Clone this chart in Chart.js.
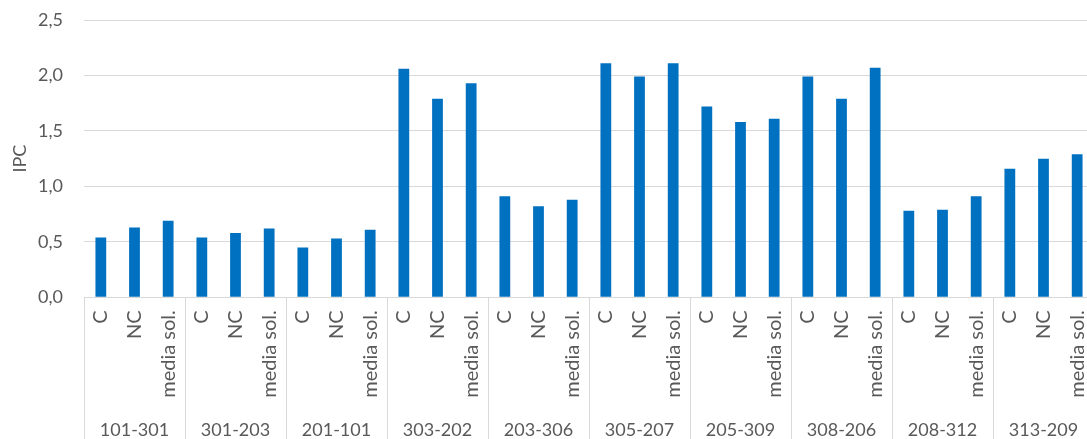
<!DOCTYPE html>
<html>
<head>
<meta charset="utf-8">
<script src="https://cdn.jsdelivr.net/npm/chart.js@4/dist/chart.umd.min.js"></script>
<style>
  html, body { margin: 0; padding: 0; background: #ffffff; overflow: hidden; }
  #wrap { width: 1096px; height: 439px; }
</style>
</head>
<body>
<div id="wrap"><canvas id="chart" width="1096" height="439"></canvas></div>
<script>
// Pairs (outer category) and the three measures per pair (inner category)
const groups = ['101-301', '301-203', '201-101', '303-202', '203-306',
                '305-207', '205-309', '308-206', '208-312', '313-209'];
const measures = ['C', 'NC', 'media sol.'];

// IPC per pair for each measure
const ipcC     = [0.54, 0.54, 0.45, 2.06, 0.91, 2.11, 1.72, 1.99, 0.78, 1.16];
const ipcNC    = [0.63, 0.58, 0.53, 1.79, 0.82, 1.99, 1.58, 1.79, 0.79, 1.25];
const ipcMedia = [0.69, 0.62, 0.61, 1.93, 0.88, 2.11, 1.61, 2.07, 0.91, 1.29];

// Y axis ticks
const yTicks = [0, 0.5, 1.0, 1.5, 2.0, 2.5];

// Flatten into one bar per (pair, measure)
const barLabels = [];
const barValues = [];
groups.forEach((g, i) => {
  const vals = [ipcC[i], ipcNC[i], ipcMedia[i]];
  measures.forEach((m, j) => {
    barLabels.push(m);
    barValues.push(vals[j]);
  });
});

const TEXT = '#595959';
const GRID = '#d9d9d9';
const FONT = 'Lato, "Open Sans", sans-serif';

// Vertical separators between pairs across both label rows
const groupSeparators = {
  id: 'groupSeparators',
  afterDraw(chart) {
    const x = chart.scales.x;
    const ctx = chart.ctx;
    const slot = x.getPixelForValue(1) - x.getPixelForValue(0);
    ctx.save();
    ctx.strokeStyle = GRID;
    ctx.lineWidth = 1;
    for (let k = 0; k <= groups.length; k++) {
      const px = Math.round(x.getPixelForValue(k * measures.length) - slot / 2) + 0.5;
      ctx.beginPath();
      ctx.moveTo(px, x.top);
      ctx.lineTo(px, chart.height);
      ctx.stroke();
    }
    ctx.restore();
  }
};

new Chart(document.getElementById('chart'), {
  type: 'bar',
  data: {
    labels: barLabels,
    datasets: [{
      data: barValues,
      backgroundColor: '#0070C0',
      borderWidth: 0,
      barPercentage: 0.32,
      categoryPercentage: 1.0,
      xAxisID: 'x',
      yAxisID: 'y'
    }]
  },
  options: {
    responsive: false,
    animation: false,
    events: [],
    layout: { padding: { top: 20, right: 2, bottom: 0, left: 0 } },
    plugins: {
      legend: { display: false },
      tooltip: { enabled: false }
    },
    scales: {
      y: {
        min: 0,
        max: 2.5,
        afterFit: s => { s.width = 84; s.paddingTop = 0; s.paddingBottom = 0; },
        afterBuildTicks: s => { s.ticks = yTicks.map(v => ({ value: v })); },
        ticks: {
          color: TEXT,
          font: { family: FONT, size: 18 },
          padding: 21,
          callback: v => Number(v).toFixed(1).replace('.', ',')
        },
        grid: { color: GRID, lineWidth: 1, drawTicks: false },
        border: { display: false },
        title: {
          display: true,
          text: 'IPC',
          color: TEXT,
          font: { family: FONT, size: 18 },
          padding: { top: 9, bottom: 0 }
        }
      },
      x: {
        position: 'bottom',
        offset: true,
        afterFit: s => { s.height = 100; s.paddingLeft = 0; s.paddingRight = 0; },
        ticks: {
          color: TEXT,
          font: { family: FONT, size: 20 },
          minRotation: 90,
          maxRotation: 90,
          autoSkip: false,
          padding: 13
        },
        grid: { display: false, drawTicks: false },
        border: { display: true, color: GRID, width: 1 }
      },
      x2: {
        type: 'category',
        position: 'bottom',
        labels: groups,
        offset: true,
        afterFit: s => { s.height = 41.7; s.paddingLeft = 0; s.paddingRight = 0; },
        ticks: {
          color: TEXT,
          font: { family: FONT, size: 18 },
          maxRotation: 0,
          minRotation: 0,
          autoSkip: false,
          padding: 22
        },
        grid: { display: false, drawTicks: false },
        border: { display: false }
      }
    }
  },
  plugins: [groupSeparators]
});
</script>
</body>
</html>
